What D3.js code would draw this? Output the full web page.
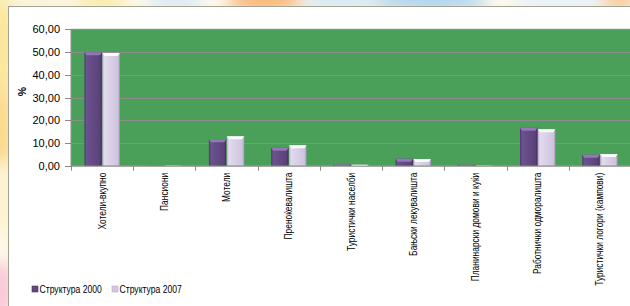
<!DOCTYPE html>
<html><head><meta charset="utf-8">
<script src="https://cdn.jsdelivr.net/npm/d3@7"></script>
<style>html,body{margin:0;padding:0;background:#fff;}svg{display:block;}</style>
</head><body>
<svg id="c" width="630" height="306"></svg>
<script>
const categories = ["Хотели-вкупно","Пансиони","Мотели","Преноќевалишта","Туристички населби","Бањски лекувалишта","Планинарски домови и куќи","Работнички одморалишта","Туристички логори (кампови)"];
const series2000 = [49.9, 0.1, 11.6, 7.9, 0.5, 3.1, 0.4, 16.7, 4.8];
const series2007 = [49.6, 0.1, 12.9, 9.0, 0.4, 2.9, 0.1, 16.0, 5.1];
const seriesNames = ["Структура 2000","Структура 2007"];
const yTicks = [0,10,20,30,40,50,60];

const svg = d3.select("#c");
const defs = svg.append("defs");
const blur = defs.append("filter").attr("id","bl").attr("x","-50%").attr("y","-50%").attr("width","200%").attr("height","200%");
blur.append("feGaussianBlur").attr("stdDeviation",8);

// decorative background
const bg = svg.append("g").attr("filter","url(#bl)");
bg.append("rect").attr("x",0).attr("y",0).attr("width",630).attr("height",306).attr("fill","#fdf6e0");
[[0,40,18,60,"#fbe79a"],[0,130,16,50,"#fcd98a"],[0,200,14,40,"#fdf3d0"],[0,290,16,30,"#f9c8d8"],
 [100,0,30,10,"#fae9a0"],[175,0,30,10,"#d6e8f6"],[265,0,40,12,"#f8b46a"],[340,0,40,10,"#d0e6f6"],
 [430,0,60,12,"#a9d3f0"],[560,0,50,10,"#e2f0fa"],[40,0,40,10,"#fbf3d8"],[620,0,20,10,"#f6c48a"]]
 .forEach(d=>bg.append("ellipse").attr("cx",d[0]).attr("cy",d[1]).attr("rx",d[2]).attr("ry",d[3]).attr("fill",d[4]));

// chart box
svg.append("rect").attr("x",8.5).attr("y",6.5).attr("width",640).attr("height",320)
  .attr("fill","#fff").attr("stroke","#a3a394").attr("stroke-width",1);

const pLeft=71, pRight=631, pTop=29.3, pBottom=165.7;
const x0 = d3.scaleBand().domain(categories).range([pLeft,pRight]).paddingInner(0).paddingOuter(0);
const x1 = d3.scaleBand().domain(seriesNames).range([0,x0.bandwidth()]).paddingInner(0.03).paddingOuter(0.75);
const y = d3.scaleLinear().domain([0,60]).range([pBottom,pTop]);

// plot area
svg.append("rect").attr("x",pLeft).attr("y",pTop).attr("width",pRight-pLeft).attr("height",pBottom-pTop)
  .attr("fill","#4a9f59").attr("stroke","#8a8a8a");
svg.append("g").selectAll("line").data(yTicks.filter(t=>t>0)).join("line")
  .attr("x1",pLeft).attr("x2",pRight).attr("y1",d=>Math.round(y(d))+0.5).attr("y2",d=>Math.round(y(d))+0.5)
  .attr("stroke","#8c8c8c").attr("stroke-width",1.2);

// gradients
function grad(id, stops){
  const g = defs.append("linearGradient").attr("id",id).attr("x1","0").attr("x2","1").attr("y1","0").attr("y2","0");
  stops.forEach(s=>g.append("stop").attr("offset",s[0]).attr("stop-color",s[1]));
}
grad("g0",[[0,"#4d3868"],[0.12,"#6b5290"],[0.5,"#634a84"],[0.88,"#5a4278"],[1,"#3f2d58"]]);
grad("g1",[[0,"#b8abc9"],[0.12,"#e2daee"],[0.5,"#d8cfe6"],[0.88,"#cfc4df"],[1,"#a99bbd"]]);
const capCol = ["#9278b6","#fbf9fd"];

const data = categories.map((c,i)=>({c, vals:[series2000[i],series2007[i]]}));
const bars = svg.append("g");
data.forEach(d=>{
  d.vals.forEach((v,k)=>{
    const bx = x0(d.c)+x1(seriesNames[k]);
    const bw = x1.bandwidth();
    const yt = y(v), h = pBottom - yt;
    if (h <= 0) return;
    bars.append("rect").attr("x",bx).attr("y",yt).attr("width",bw).attr("height",h)
      .attr("fill",`url(#g${k})`);
    const capH = Math.min(3, h);
    bars.append("path")
      .attr("d",`M${bx},${yt}L${bx+bw},${yt}L${bx+bw-2},${yt+capH}L${bx+2},${yt+capH}Z`)
      .attr("fill",capCol[k]);
  });
});

// axes
const axL = svg.append("g");
axL.append("line").attr("x1",pLeft+0.5).attr("x2",pLeft+0.5).attr("y1",pTop).attr("y2",pBottom).attr("stroke","#8a8a8a");
axL.selectAll("line.t").data(yTicks).join("line").attr("class","t")
  .attr("x1",pLeft-6).attr("x2",pLeft).attr("y1",d=>Math.round(y(d))+0.5).attr("y2",d=>Math.round(y(d))+0.5).attr("stroke","#8a8a8a");
axL.selectAll("text").data(yTicks).join("text")
  .attr("x",pLeft-11).attr("y",d=>y(d)+4).attr("text-anchor","end")
  .attr("font-family","Liberation Sans, Arial, sans-serif").attr("font-size",11).attr("fill","#000")
  .text(d=>d3.format(".2f")(d).replace(".",","));

const axB = svg.append("g");
axB.append("line").attr("x1",pLeft).attr("x2",pRight).attr("y1",pBottom+0.5).attr("y2",pBottom+0.5).attr("stroke","#8a8a8a");
axB.selectAll("line.t").data(d3.range(categories.length+1)).join("line").attr("class","t")
  .attr("x1",i=>Math.round(pLeft+i*x0.step())+0.5).attr("x2",i=>Math.round(pLeft+i*x0.step())+0.5)
  .attr("y1",pBottom).attr("y2",pBottom+5).attr("stroke","#8a8a8a");
axB.selectAll("text").data(categories).join("text")
  .attr("transform",d=>`translate(${x0(d)+x0.bandwidth()/2+3.5},${pBottom+7}) rotate(-90) scale(0.8,1)`)
  .attr("text-anchor","end")
  .attr("font-family","Liberation Sans, Arial, sans-serif").attr("font-size",10.5).attr("fill","#000")
  .text(d=>d);

svg.append("text").attr("transform",`translate(26,${(pTop+pBottom)/2-6}) rotate(-90)`)
  .attr("text-anchor","middle").attr("font-family","Liberation Sans, Arial, sans-serif")
  .attr("font-size",10.5).attr("font-weight","bold").text("%");

// legend
const lg = svg.append("g");
const legX = [32, 112];
seriesNames.forEach((n,k)=>{
  lg.append("rect").attr("x",legX[k]).attr("y",286).attr("width",6).attr("height",6)
    .attr("fill",k===0?"#604a7f":"#d2c8e2").attr("stroke",k===0?"#4a3763":"#b8aacb").attr("stroke-width",0.6);
  lg.append("text").attr("transform",`translate(${legX[k]+7.5},293) scale(0.82,1)`)
    .attr("font-family","Liberation Sans, Arial, sans-serif").attr("font-size",10.5).text(n);
});
</script>
</body></html>
